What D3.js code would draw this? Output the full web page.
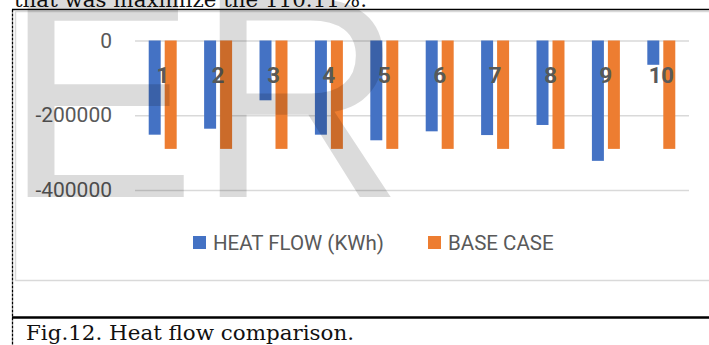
<!DOCTYPE html>
<html>
<head>
<meta charset="utf-8">
<script src="https://cdn.jsdelivr.net/npm/d3@7"></script>
<style>
  body { margin: 0; background: #fff; }
  svg { display: block; }
</style>
</head>
<body>
<div id="chart"></div>
<script>
// Values (kWh)
var categories = ["1", "2", "3", "4", "5", "6", "7", "8", "9", "10"];
var heatFlow = [-252000, -236000, -160000, -252000, -267000, -243000, -253000, -226000, -322000, -65000];
var baseCase = [-290000, -290000, -290000, -290000, -290000, -290000, -290000, -290000, -290000, -290000];
var seriesNames = ["HEAT FLOW (KWh)", "BASE CASE"];
var yTicks = [0, -200000, -400000];

var colors = ["#4472c4", "#ed7d31"];
var width = 709, height = 345;
var plot = {left: 135, right: 689, top: 40.5, bottom: 190};

var rows = categories.map(function(c, i) {
  return {cat: c, values: [heatFlow[i], baseCase[i]]};
});

var svg = d3.select("#chart")
  .append("svg")
    .attr("width", width)
    .attr("height", height);

svg.append("rect")
  .attr("width", width)
  .attr("height", height)
  .attr("fill", "#fff");

// Surrounding page text and frame
svg.append("text")
  .attr("x", 14)
  .attr("y", 6.5)
  .attr("font-family", "DejaVu Serif")
  .attr("font-size", 21)
  .attr("textLength", 353)
  .attr("lengthAdjust", "spacingAndGlyphs")
  .attr("fill", "#111")
  .text("that was maximize the 110.11%.");

svg.append("line")
  .attr("x1", 12).attr("x2", width)
  .attr("y1", 9.5).attr("y2", 9.5)
  .attr("stroke", "#000").attr("stroke-width", 1.3);

svg.append("line")
  .attr("x1", 12.5).attr("x2", 12.5)
  .attr("y1", 9.5).attr("y2", height)
  .attr("stroke", "#000").attr("stroke-width", 1.3)
  .attr("stroke-dasharray", "3,1");

svg.append("line")
  .attr("x1", 12).attr("x2", width)
  .attr("y1", 317.5).attr("y2", 317.5)
  .attr("stroke", "#000").attr("stroke-width", 2.5);

svg.append("text")
  .attr("x", 26)
  .attr("y", 339.5)
  .attr("font-family", "DejaVu Serif")
  .attr("font-size", 19.5)
  .attr("textLength", 328)
  .attr("lengthAdjust", "spacingAndGlyphs")
  .attr("fill", "#111")
  .text("Fig.12. Heat flow comparison.");

// Chart area border
svg.append("rect")
  .attr("x", 15.5)
  .attr("y", 11.5)
  .attr("width", width)
  .attr("height", 269)
  .attr("fill", "none")
  .attr("stroke", "#d9d9d9")
  .attr("stroke-width", 1.5);

// Scales
var x0 = d3.scaleBand()
  .domain(categories)
  .range([plot.left, plot.right])
  .paddingInner(0.495)
  .paddingOuter(0.2475);

var x1 = d3.scaleBand()
  .domain([0, 1])
  .range([0, x0.bandwidth()])
  .paddingInner(0.25);

var y = d3.scaleLinear()
  .domain([-400000, 0])
  .range([plot.bottom, plot.top]);

// Gridlines
svg.append("g")
  .attr("transform", "translate(" + plot.left + ",0)")
  .call(d3.axisLeft(y).tickValues(yTicks).tickSize(-(plot.right - plot.left)).tickFormat(""))
  .call(function(g) { g.select(".domain").remove(); })
  .selectAll("line")
    .attr("stroke", "#d9d9d9")
    .attr("stroke-width", 1.5);

// Y labels (plain hyphen, as in the source)
svg.append("g")
  .attr("transform", "translate(112,0)")
  .call(d3.axisLeft(y).tickValues(yTicks).tickSize(0).tickPadding(0).tickFormat(function(d) { return String(d); }))
  .call(function(g) { g.select(".domain").remove(); })
  .selectAll("text")
    .attr("font-family", "Roboto")
    .attr("font-size", 21)
    .attr("fill", "#595959");

// Bars
var groups = svg.append("g")
  .selectAll("g")
  .data(rows)
  .enter()
  .append("g")
    .attr("transform", function(d) { return "translate(" + x0(d.cat) + ",0)"; });

groups.selectAll("rect")
  .data(function(d) { return d.values; })
  .enter()
  .append("rect")
    .attr("x", function(d, i) { return x1(i); })
    .attr("y", function(d) { return y(0); })
    .attr("width", x1.bandwidth())
    .attr("height", function(d) { return y(d) - y(0); })
    .attr("fill", function(d, i) { return colors[i]; });

// Category labels sit near the zero line, over the bars
svg.append("g")
  .selectAll("text")
  .data(categories)
  .enter()
  .append("text")
    .attr("x", function(d) { return x0(d) + x0.bandwidth() / 2; })
    .attr("y", y(0) + 42.5)
    .attr("text-anchor", "middle")
    .attr("font-family", "Roboto")
    .attr("font-weight", 700)
    .attr("font-size", 22)
    .attr("fill", "#595959")
    .text(function(d) { return d; });

// Legend
var legendX = [193, 428];
var legend = svg.append("g")
  .selectAll("g")
  .data(seriesNames)
  .enter()
  .append("g")
    .attr("transform", function(d, i) { return "translate(" + legendX[i] + ",236)"; });

legend.append("rect")
  .attr("width", 13)
  .attr("height", 13)
  .attr("fill", function(d, i) { return colors[i]; });

legend.append("text")
  .attr("x", 20)
  .attr("y", 14)
  .attr("font-family", "Roboto")
  .attr("font-size", 20.5)
  .attr("fill", "#595959")
  .text(function(d) { return d; });

// Watermark letters over everything
svg.append("text")
  .attr("x", 4)
  .attr("y", 197)
  .attr("font-family", "Liberation Sans")
  .attr("font-size", 288)
  .attr("fill", "#000")
  .attr("fill-opacity", 0.14)
  .attr("pointer-events", "none")
  .text("ER");
</script>
</body>
</html>
